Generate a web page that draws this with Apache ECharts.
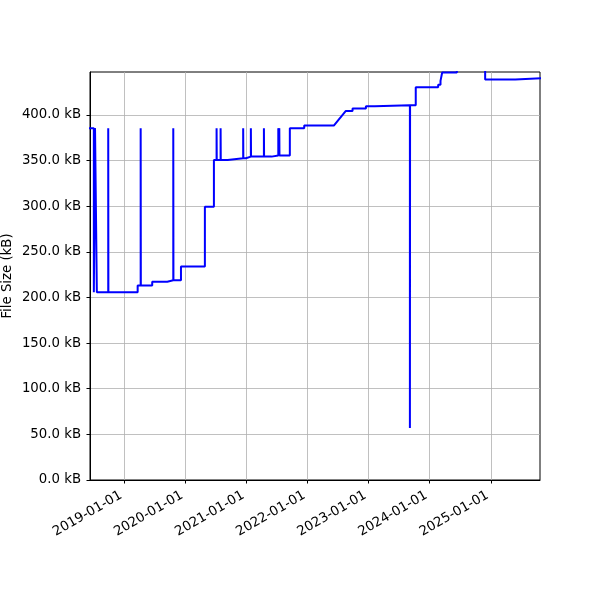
<!DOCTYPE html>
<html>
<head>
<meta charset="utf-8">
<title>File Size</title>
<script src="https://cdn.jsdelivr.net/npm/echarts@6/dist/echarts.min.js"></script>
<style>
    html, body { margin: 0; padding: 0; background: #fff; }
    #main { width: 600px; height: 600px; }
</style>
</head>
<body>
<div id="main"></div>
<script>
// commit dates and file sizes (kB)
const dates = [
    '2018-05-12', '2018-07-03', '2018-07-03', '2018-07-10', '2018-07-10', '2018-07-21', '2018-07-21',
    '2018-09-27', '2018-09-27', '2018-09-28',
    '2019-03-22', '2019-03-22', '2019-04-09', '2019-04-09', '2019-04-10',
    '2019-06-17', '2019-06-17', '2019-09-15', '2019-09-15', '2019-10-21', '2019-10-21', '2019-10-22',
    '2019-12-06', '2019-12-06', '2020-04-27', '2020-04-27', '2020-06-20', '2020-06-20',
    '2020-07-06', '2020-07-06', '2020-07-07', '2020-07-30', '2020-07-30', '2020-07-31',
    '2020-09-10', '2020-09-10', '2020-12-12', '2020-12-12', '2020-12-13', '2020-12-28', '2020-12-28',
    '2021-01-27', '2021-01-27', '2021-01-28', '2021-04-15', '2021-04-15', '2021-04-16',
    '2021-05-31', '2021-05-31', '2021-07-10', '2021-07-10', '2021-07-11', '2021-07-16', '2021-07-16', '2021-07-17',
    '2021-09-17', '2021-09-17', '2021-12-12', '2021-12-12', '2022-06-07', '2022-08-18',
    '2022-09-27', '2022-09-27', '2022-12-16', '2022-12-16', '2023-02-07', '2023-02-07',
    '2023-09-05', '2023-09-05', '2023-09-06', '2023-10-10', '2023-10-10',
    '2024-02-21', '2024-02-21', '2024-03-06', '2024-03-06', '2024-03-16', '2024-03-16',
    '2024-06-12', '2024-06-12', '2024-11-28', '2024-11-28', '2025-05-27', '2025-05-27', '2025-10-30'
];
const sizes = [
    385.5, 385.5, 205.7, 205.7, 385.5, 385.5, 205.7,
    205.7, 385.5, 205.7,
    205.7, 213.0, 213.0, 385.5, 213.0,
    213.0, 217.3, 217.3, 218.8, 218.8, 385.5, 218.8,
    218.8, 233.8, 233.8, 299.5, 299.5, 350.7,
    350.7, 385.5, 350.7, 350.7, 385.5, 350.7,
    350.7, 352.5, 352.5, 385.5, 352.5, 352.5, 354.3,
    354.3, 385.5, 354.3, 354.3, 385.5, 354.3,
    354.3, 355.6, 355.6, 385.5, 355.6, 355.6, 385.5, 355.6,
    355.6, 385.4, 385.4, 388.3, 388.3, 404.4,
    404.4, 407.0, 407.0, 409.5, 409.5, 410.6,
    410.6, 57.0, 410.6, 410.6, 430.4,
    430.4, 433.0, 433.0, 437.3, 437.3, 446.5,
    446.5, 460.0, 460.0, 438.7, 438.7, 440.2, 440.2
];
const xTicks = ['2019-01-01', '2020-01-01', '2021-01-01', '2022-01-01', '2023-01-01', '2024-01-01', '2025-01-01'];
const yTicks = [0, 50, 100, 150, 200, 250, 300, 350, 400];

const font = 'DejaVu Sans';
const ts = s => echarts.time.parse(s).getTime();
const xTickValues = xTicks.map(ts);

const myChart = echarts.init(document.getElementById('main'));

const option = {
    animation: false,
    backgroundColor: '#fff',
    grid: {
        left: 90, right: 60, top: 72, bottom: 120,
        containLabel: false,
        outerBoundsMode: 'none',
        show: true, borderColor: '#000', borderWidth: 1, backgroundColor: 'transparent'
    },
    xAxis: {
        type: 'value',
        min: ts('2018-06-10'),
        max: ts('2025-10-22'),
        axisLine: { lineStyle: { color: '#000', width: 1 } },
        axisTick: { show: true, length: 3.5, lineStyle: { color: '#000' }, customValues: xTickValues },
        axisLabel: {
            customValues: xTickValues,
            rotate: 30,
            margin: 20,
            align: 'right',
            verticalAlign: 'bottom',
            color: '#000',
            fontFamily: font,
            fontSize: 13.3,
            formatter: v => echarts.time.format(v, '{yyyy}-{MM}-{dd}', false)
        },
        splitLine: { show: true, lineStyle: { color: '#b0b0b0', width: 0.8 } }
    },
    yAxis: {
        type: 'value',
        min: 0,
        max: 447,
        interval: 50,
        name: 'File Size (kB)',
        nameLocation: 'middle',
        nameGap: 76,
        nameMoveOverlap: false,
        nameTextStyle: { color: '#000', fontFamily: font, fontSize: 13.3 },
        axisLine: { show: true, lineStyle: { color: '#000', width: 1 } },
        axisTick: { show: true, length: 3.5, lineStyle: { color: '#000' }, customValues: yTicks },
        axisLabel: {
            customValues: yTicks,
            margin: 9,
            color: '#000',
            fontFamily: font,
            fontSize: 13.3,
            formatter: v => v.toFixed(1) + ' kB'
        },
        splitLine: { show: true, lineStyle: { color: '#b0b0b0', width: 0.8 } }
    },
    series: [
        {
            name: 'File Size',
            type: 'line',
            showSymbol: false,
            clip: true,
            lineStyle: { color: '#0000ff', width: 2 },
            data: dates.map((d, i) => [ts(d), sizes[i]])
        }
    ]
};

myChart.setOption(option);
</script>
</body>
</html>
